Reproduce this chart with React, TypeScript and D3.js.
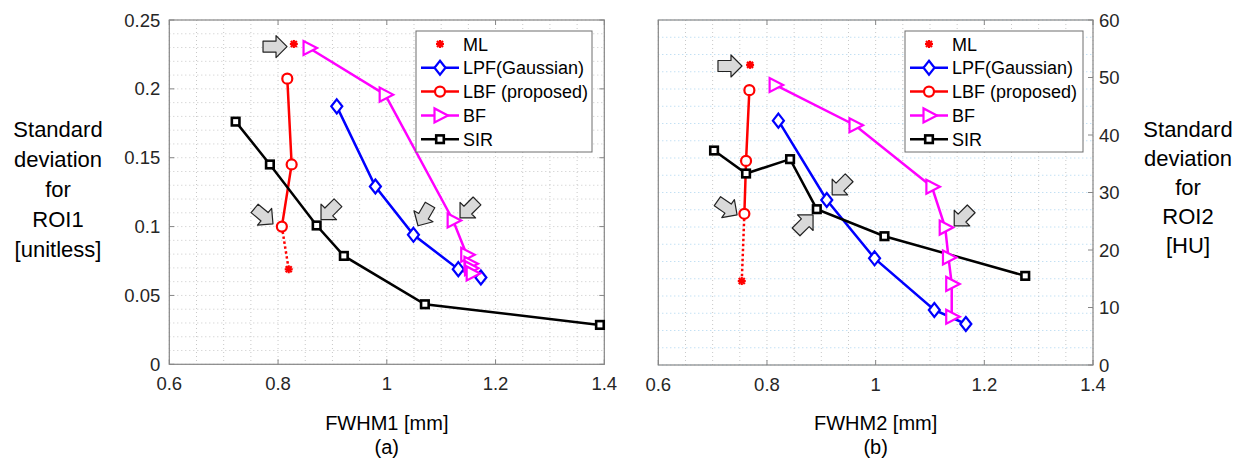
import React from "react";
import * as d3 from "d3";

type Pt = [number, number];

// ---- panel (a): ROI1 ----
const mlA: Pt[] = [[0.829, 0.2326]];
const mlTailA: Pt[] = [[0.807, 0.1], [0.8196, 0.069]];
const lpfA: Pt[] = [[0.908, 0.1873], [0.979, 0.1291], [1.049, 0.094], [1.1315, 0.0691], [1.173, 0.063]];
const lbfA: Pt[] = [[0.817, 0.2074], [0.825, 0.1451], [0.807, 0.1]];
const bfA: Pt[] = [[0.857, 0.2297], [0.997, 0.1958], [1.122, 0.1044], [1.147, 0.0795], [1.153, 0.073], [1.154, 0.0698], [1.157, 0.066]];
const sirA: Pt[] = [[0.722, 0.1762], [0.785, 0.1451], [0.871, 0.1008], [0.921, 0.0787], [1.07, 0.0436], [1.392, 0.0286]];
// arrow tips [x, y, angle]
const arrowsA: [number, number, number][] = [
  [0.8165, 0.2307, 0], [0.7907, 0.102, 40], [0.879, 0.105, 135], [1.0574, 0.1006, 120], [1.1347, 0.1063, 135],
];

// ---- panel (b): ROI2 ----
const mlB: Pt[] = [[0.7689, 52.2]];
const mlTailB: Pt[] = [[0.7584, 26.3], [0.7536, 14.6]];
const lpfB: Pt[] = [[0.821, 42.5], [0.91, 28.7], [0.998, 18.55], [1.108, 9.57], [1.166, 7.13]];
const lbfB: Pt[] = [[0.7676, 47.8], [0.7615, 35.5], [0.7584, 26.3]];
const bfB: Pt[] = [[0.815, 48.7], [0.962, 41.7], [1.1035, 31.0], [1.128, 23.9], [1.134, 18.7], [1.14, 14.1], [1.14, 8.4]];
const sirB: Pt[] = [[0.7026, 37.3], [0.7615, 33.3], [0.8425, 35.8], [0.8917, 27.1], [1.0162, 22.4], [1.2753, 15.5]];
const arrowsB: [number, number, number][] = [
  [0.754, 52.0, 0], [0.745, 26.1, 35], [0.8848, 26.1, -45], [0.92, 29.6, 135], [1.1446, 24.2, 135],
];

const xTicks = [0.6, 0.8, 1.0, 1.2, 1.4];
const yTicksA = [0, 0.05, 0.1, 0.15, 0.2, 0.25];
const yTicksB = [0, 10, 20, 30, 40, 50, 60];
const legendNames = ["ML", "LPF(Gaussian)", "LBF (proposed)", "BF", "SIR"];

const FONT = "'Liberation Sans', Arial, sans-serif";
const RED = "#ff0000";
const BLUE = "#0000ff";
const MAG = "#ff00ff";
const BLK = "#000000";

function Marker({ kind, x, y }: { kind: string; x: number; y: number }) {
  if (kind === "circle")
    return <circle cx={x} cy={y} r={5} fill="white" stroke={RED} strokeWidth={2.2} />;
  if (kind === "diamond")
    return <path d={`M${x},${y - 7}L${x + 5.5},${y}L${x},${y + 7}L${x - 5.5},${y}Z`} fill="white" stroke={BLUE} strokeWidth={2.2} />;
  if (kind === "tri")
    return <path d={`M${x + 8},${y}L${x - 5.5},${y - 7}L${x - 5.5},${y + 7}Z`} fill="white" stroke={MAG} strokeWidth={2.2} />;
  if (kind === "square")
    return <rect x={x - 3.8} y={y - 3.8} width={7.6} height={7.6} fill="white" stroke={BLK} strokeWidth={2.6} />;
  // asterisk
  return (
    <g stroke={RED} strokeWidth={2.2}>
      <line x1={x - 4} x2={x + 4} y1={y} y2={y} />
      <line x1={x} x2={x} y1={y - 4} y2={y + 4} />
      <line x1={x - 3} x2={x + 3} y1={y - 3} y2={y + 3} />
      <line x1={x - 3} x2={x + 3} y1={y + 3} y2={y - 3} />
    </g>
  );
}

function Arrow({ x, y, angle }: { x: number; y: number; angle: number }) {
  const d = "M0,0 L-11,-11 L-11,-5.5 L-24,-5.5 L-24,5.5 L-11,5.5 L-11,11 Z";
  return (
    <path d={d} transform={`translate(${x},${y}) rotate(${angle})`} fill="#d9d9d9" stroke="#222" strokeWidth={1.2} strokeLinejoin="round" />
  );
}

interface PanelProps {
  x0: number; x1: number; y0: number; y1: number;
  yMax: number; yTicks: number[]; yMinor: number; yFmt: (v: number) => string;
  right: boolean; hGridColor: string;
  ml: Pt[]; mlTail: Pt[]; lpf: Pt[]; lbf: Pt[]; bf: Pt[]; sir: Pt[];
  arrows: [number, number, number][];
  xLabel: string; sub: string; legendX: number; legendW: number;
}

function Panel(p: PanelProps) {
  const x = d3.scaleLinear().domain([0.6, 1.4]).range([p.x0, p.x1]);
  const y = d3.scaleLinear().domain([0, p.yMax]).range([p.y1, p.y0]);
  const line = d3.line<Pt>().x((d) => x(d[0])).y((d) => y(d[1]));
  const xMinor = d3.range(0.6, 1.4001, 0.05);
  const yMinor = d3.range(0, p.yMax + 1e-9, p.yMinor);
  const series: { pts: Pt[]; color: string; kind: string }[] = [
    { pts: p.lpf, color: BLUE, kind: "diamond" },
    { pts: p.lbf, color: RED, kind: "circle" },
    { pts: p.bf, color: MAG, kind: "tri" },
    { pts: p.sir, color: BLK, kind: "square" },
  ];
  const legendRows = [
    { kind: "ast", color: RED, line: false },
    { kind: "diamond", color: BLUE, line: true },
    { kind: "circle", color: RED, line: true },
    { kind: "tri", color: MAG, line: true },
    { kind: "square", color: BLK, line: true },
  ];
  const axisColor = "#868686";
  const cx = (p.x0 + p.x1) / 2;

  return (
    <g fontFamily={FONT}>
      {/* grid */}
      {xMinor.map((v, i) => (
        <line key={"gx" + i} x1={x(v)} x2={x(v)} y1={p.y0} y2={p.y1} stroke="#c8c8c8" strokeWidth={1} strokeDasharray="1,3" />
      ))}
      {yMinor.map((v, i) => (
        <line key={"gy" + i} x1={p.x0} x2={p.x1} y1={y(v)} y2={y(v)} stroke={p.hGridColor} strokeWidth={1} strokeDasharray="1,3" />
      ))}

      {/* box and ticks */}
      <rect x={p.x0} y={p.y0} width={p.x1 - p.x0} height={p.y1 - p.y0} fill="none" stroke={axisColor} strokeWidth={1.2} />
      {xTicks.map((v) => (
        <g key={"xt" + v}>
          <line x1={x(v)} x2={x(v)} y1={p.y1} y2={p.y1 - 5} stroke={axisColor} />
          <line x1={x(v)} x2={x(v)} y1={p.y0} y2={p.y0 + 5} stroke={axisColor} />
          <text x={x(v)} y={p.y1 + 26} textAnchor="middle" fontSize={18.5} fill="#262626">{d3.format("~g")(v)}</text>
        </g>
      ))}
      {p.yTicks.map((v) => (
        <g key={"yt" + v}>
          {!p.right && <line x1={p.x0} x2={p.x0 + 5} y1={y(v)} y2={y(v)} stroke={axisColor} />}
          <line x1={p.x1} x2={p.x1 - 5} y1={y(v)} y2={y(v)} stroke={axisColor} />
          <text
            x={p.right ? p.x1 + 6 : p.x0 - 9}
            y={y(v) + 6.5}
            textAnchor={p.right ? "start" : "end"}
            fontSize={18.5}
            fill="#262626"
          >
            {p.yFmt(v)}
          </text>
        </g>
      ))}

      {/* ML dotted tail */}
      <path d={line(p.mlTail) || ""} fill="none" stroke={RED} strokeWidth={2.5} strokeDasharray="2.5,2.5" />

      {series.map((s) => (
        <path key={"l" + s.kind} d={line(s.pts) || ""} fill="none" stroke={s.color} strokeWidth={2.5} />
      ))}
      {series.map((s) =>
        s.pts.map((d, i) => <Marker key={s.kind + i} kind={s.kind} x={x(d[0])} y={y(d[1])} />)
      )}
      {p.ml.map((d, i) => <Marker key={"ml" + i} kind="ast" x={x(d[0])} y={y(d[1])} />)}
      <Marker kind="ast" x={x(p.mlTail[1][0])} y={y(p.mlTail[1][1])} />

      {p.arrows.map((a, i) => (
        <Arrow key={"ar" + i} x={x(a[0])} y={y(a[1])} angle={a[2]} />
      ))}

      {/* legend */}
      <rect x={p.legendX} y={31} width={p.legendW} height={121} fill="white" stroke="#6e6e6e" strokeWidth={1} />
      {legendRows.map((r, i) => {
        const ly = 44 + i * 23.8;
        const mx = p.legendX + 24;
        return (
          <g key={"lg" + i}>
            {r.line && <line x1={p.legendX + 5} x2={p.legendX + 43} y1={ly} y2={ly} stroke={r.color} strokeWidth={2.5} />}
            <Marker kind={r.kind} x={mx} y={ly} />
            <text x={p.legendX + 47} y={ly + 6.5} fontSize={18} fill="#000">{legendNames[i]}</text>
          </g>
        );
      })}

      {/* axis titles */}
      <text x={cx} y={430} textAnchor="middle" fontSize={20} fill="#000">{p.xLabel}</text>
      <text x={cx} y={454} textAnchor="middle" fontSize={20} fill="#000">{p.sub}</text>
    </g>
  );
}

export default function App() {
  const yLabA = ["Standard", "deviation", "for", "ROI1", "[unitless]"];
  const yLabB = ["Standard", "deviation", "for", "ROI2", "[HU]"];
  return (
    <svg width={1234} height={459} style={{ position: "absolute", left: 0, top: 0, background: "white" }}>
      <rect width={1234} height={459} fill="white" />
      <Panel
        x0={169.3} x1={604.3} y0={20} y1={364.3}
        yMax={0.25} yTicks={yTicksA} yMinor={0.01} yFmt={(v) => d3.format("~g")(v)}
        right={false} hGridColor="#c8c8c8"
        ml={mlA} mlTail={mlTailA} lpf={lpfA} lbf={lbfA} bf={bfA} sir={sirA} arrows={arrowsA}
        xLabel="FWHM1 [mm]" sub="(a)" legendX={416} legendW={176}
      />
      <Panel
        x0={658.3} x1={1093} y0={20} y1={365}
        yMax={60} yTicks={yTicksB} yMinor={3} yFmt={(v) => String(v)}
        right={true} hGridColor="#a9d3ef"
        ml={mlB} mlTail={mlTailB} lpf={lpfB} lbf={lbfB} bf={bfB} sir={sirB} arrows={arrowsB}
        xLabel="FWHM2 [mm]" sub="(b)" legendX={905} legendW={178}
      />
      <g fontFamily={FONT} fontSize={22} textAnchor="middle" fill="#000">
        {yLabA.map((t, i) => (
          <text key={"a" + t} x={58} y={137 + i * 30}>{t}</text>
        ))}
        {yLabB.map((t, i) => (
          <text key={"b" + t} x={1188} y={137 + i * 29}>{t}</text>
        ))}
      </g>
    </svg>
  );
}
